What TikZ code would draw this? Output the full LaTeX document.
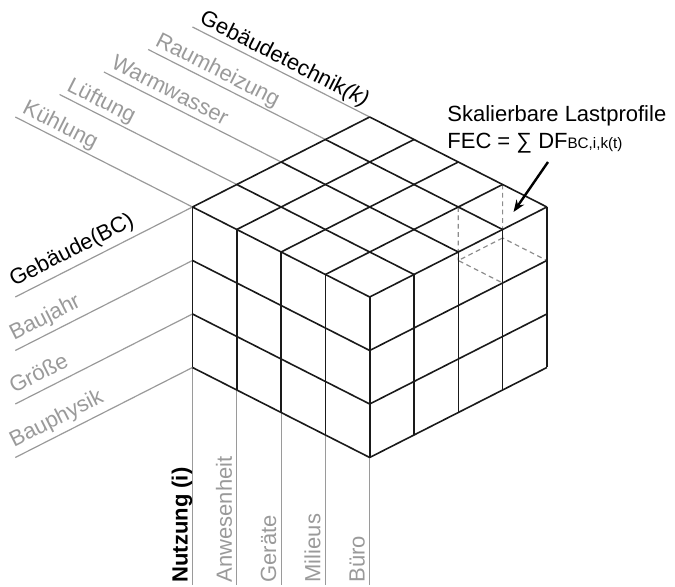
\documentclass[tikz,border=0pt]{standalone}
\usepackage{fontspec}
\setmainfont{Liberation Sans}
\usetikzlibrary{arrows.meta}
\definecolor{lineDark}{HTML}{1A1A1A}
\definecolor{axisMid}{HTML}{9A9A9A}
\definecolor{textMuted}{HTML}{9A9A9A}
\definecolor{hiddenMid}{HTML}{8C8C8C}

\begin{document}
\begin{tikzpicture}[x=0.5pt,y=-0.5pt,
    every node/.style={font=\fontsize{11pt}{13.6pt}\selectfont,inner sep=0pt},
    cubeEdge/.style={draw=lineDark,line width=0.8pt,line join=round},
    axisLine/.style={draw=axisMid,line width=0.6pt},
    hiddenEdge/.style={draw=hiddenMid,line width=0.6pt,dash pattern=on 2.4pt off 1.8pt},
    axisLabel/.style={text depth=0pt,inner xsep=1.5pt}]
  \useasboundingbox (0,0) rectangle (675,587);
  \coordinate (baseLine) at (0,585);

  % cube: x = towards the front, y = towards the back, z = down one layer
  \begin{scope}[shift={(192.5,207)},x={(22.15pt,-11.25pt)},y={(22.15pt,11.25pt)},z={(0pt,-26.75pt)}]
    % building services axis
    \foreach \j/\lbl/\col in {0/{Kühlung}/textMuted,1/{Lüftung}/textMuted,2/{Warmwasser}/textMuted,
                              3/{Raumheizung}/textMuted,4/{Gebäudetechnik\textit{(k)}}/black}
      \draw[axisLine] (0,\j,0) -- (-4,\j,0)
        node (techLbl\j) [axisLabel,anchor=south west,rotate=-26.93,inner ysep=3pt,text=\col] {\lbl};
    % building axis
    \foreach \k/\lbl/\col in {0/{Gebäude(BC)}/black,1/{Baujahr}/textMuted,2/{Größe}/textMuted,3/{Bauphysik}/textMuted}
      \draw[axisLine] (0,0,\k) -- (0,-4,\k)
        node (bldgLbl\k) [axisLabel,anchor=south west,rotate=26.93,inner ysep=4.5pt,text=\col] {\lbl};
    % usage axis
    \foreach \i/\lbl/\col in {0/{\textbf{Nutzung (i)}}/black,1/{Anwesenheit}/textMuted,2/{Geräte}/textMuted,
                              3/{Milieus}/textMuted,4/{Büro}/textMuted} {
      \coordinate (useTop\i) at (\i,0,3);
      \draw[axisLine] (useTop\i) -- (useTop\i |- baseLine)
        node (useLbl\i) [axisLabel,anchor=south west,rotate=90,inner ysep=2.2pt,inner xsep=1pt,text=\col] {\lbl};
    }

    % hidden edges of the corner cube
    \draw[hiddenEdge] (3,4,0) -- (3,4,1) -- (4,4,1) (3,4,1) -- (3,3,1) -- (4,3,1) (3,3,0) -- (3,3,1);

    % grid on the three visible faces
    \foreach \n in {0,...,4} {
      \draw[cubeEdge] (\n,0,0) -- (\n,4,0);
      \draw[cubeEdge] (0,\n,0) -- (4,\n,0);
      \draw[cubeEdge] (\n,0,0) -- (\n,0,3);
      \draw[cubeEdge] (4,\n,0) -- (4,\n,3);
    }
    \foreach \k in {1,2,3}
      \draw[cubeEdge] (0,0,\k) -- (4,0,\k) -- (4,4,\k);
  \end{scope}

  % annotation
  \node (lastProfile) [anchor=base west] at (447,121.7) {Skalierbare Lastprofile};
  \node (fecSum) [anchor=base west] at (447,149)
        {FEC = ∑ DF{\fontsize{7.6pt}{9pt}\selectfont BC,i,k(t)}};
  \coordinate (arrowTail) at (548,162);
  \coordinate (arrowTip) at (513.5,212);
  \draw[-{Stealth[length=6pt,width=4.6pt]},draw=black,line width=1.2pt] (arrowTail) -- (arrowTip);
\end{tikzpicture}
\end{document}
